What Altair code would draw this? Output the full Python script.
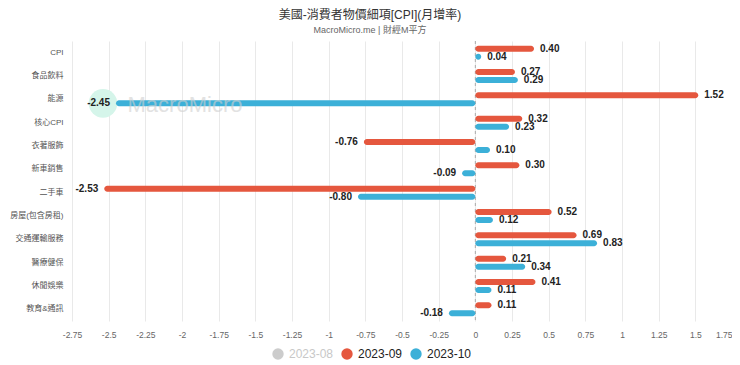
import altair as alt
import pandas as pd

categories = ["CPI", "食品飲料", "能源", "核心CPI", "衣著服飾", "新車銷售", "二手車",
              "房屋(包含房租)", "交通運輸服務", "醫療健保", "休閒娛樂", "教育&通訊"]
series_names = ["2023-08", "2023-09", "2023-10"]
s_2023_09 = [0.40, 0.27, 1.52, 0.32, -0.76, 0.30, -2.53, 0.52, 0.69, 0.21, 0.41, 0.11]
s_2023_10 = [0.04, 0.29, -2.45, 0.23, 0.10, -0.09, -0.80, 0.12, 0.83, 0.34, 0.11, -0.18]
x_ticks = [-2.75, -2.5, -2.25, -2, -1.75, -1.5, -1.25, -1, -0.75, -0.5, -0.25,
           0, 0.25, 0.5, 0.75, 1, 1.25, 1.5, 1.75]

rows = []
for c, a, b in zip(categories, s_2023_09, s_2023_10):
    rows.append({"cat": c, "series": "2023-09", "value": a})
    rows.append({"cat": c, "series": "2023-10", "value": b})
df = pd.DataFrame(rows)

FONT = "Liberation Sans, Noto Sans CJK TC, sans-serif"
RED = "#e5573e"
BLUE = "#3cb0d8"

x_enc = alt.X("value:Q",
              scale=alt.Scale(domain=[-2.75, 1.75], nice=False, zero=False),
              axis=alt.Axis(values=x_ticks, tickCount=40, title=None, grid=True, gridColor="#e9e9e9",
                            domain=False, ticks=False, labelColor="#666", labelFontSize=8.5,
                            labelPadding=9, labelFont=FONT, labelExpr="datum.value + ''",
                            labelOverlap=False, labelBound=False,
                            labelAlign={"condition": {"test": "datum.value == 1.75", "value": "right"},
                                        "value": "center"}))
y_enc = alt.Y("cat:N", sort=categories,
              scale=alt.Scale(paddingInner=0, paddingOuter=0),
              axis=alt.Axis(title=None, domain=False, ticks=False, labelColor="#555",
                            labelFontSize=8, labelFont=FONT, labelPadding=9,
                            minExtent=64, maxExtent=64))
yoff = alt.YOffset("series:N", sort=["2023-09", "2023-10"],
                   scale=alt.Scale(domain=["2023-09", "2023-10"], paddingInner=0, paddingOuter=0.46))
color_enc = alt.Color("series:N",
                      scale=alt.Scale(domain=series_names, range=["#cccccc", RED, BLUE]),
                      legend=alt.Legend(title=None, orient="none", direction="horizontal",
                                        legendX=200, legendY=307,
                                        symbolType="circle", symbolSize=130, symbolStrokeWidth=0,
                                        labelFontSize=12, labelFont=FONT, columnPadding=7,
                                        labelOffset=5,
                                        labelColor=alt.ExprRef("datum.label == '2023-08' ? '#c8c8c8' : '#222'")))

base = alt.Chart(df).transform_calculate(
    lbl="(datum.value < 0 ? '-' : '') + format(abs(datum.value), '.2f')")

highlight = base.transform_filter(
    "datum.cat == '能源' && datum.series == '2023-10'"
).mark_circle(size=820, color="#d5f5ea", opacity=1, xOffset=-13).encode(
    x=x_enc, y=y_enc, yOffset=yoff)

bars = base.mark_bar(size=6, cornerRadius=3).encode(
    x=x_enc, x2=alt.datum(0), y=y_enc, yOffset=yoff, color=color_enc)

zero = alt.Chart(pd.DataFrame({"z": [0]})).mark_rule(
    color="#aaaaaa", strokeDash=[3, 3], strokeWidth=1).encode(x="z:Q")

lab_pos = base.transform_filter("datum.value >= 0").mark_text(
    align="left", dx=6, fontWeight="bold", fontSize=10, color="#222", font=FONT
).encode(x=x_enc, y=y_enc, yOffset=yoff, text="lbl:N")

lab_neg = base.transform_filter("datum.value < 0").mark_text(
    align="right", dx=-6, fontWeight="bold", fontSize=10, color="#222", font=FONT
).encode(x=x_enc, y=y_enc, yOffset=yoff, text="lbl:N")

watermark = alt.Chart(pd.DataFrame({"t": ["MacroMicro"]})).mark_text(
    fontSize=22, color="#cfcfcf", opacity=0.6, font=FONT, align="center"
).encode(x=alt.value(113), y=alt.value(64), text="t:N")

chart = alt.layer(zero, highlight, bars, watermark, lab_pos, lab_neg).properties(
    width=660, height=280,
    padding={"left": 0, "right": 0, "top": 0, "bottom": 0},
    title=alt.TitleParams(text="美國-消費者物價細項[CPI](月增率)",
                          subtitle="MacroMicro.me | 財經M平方",
                          fontSize=12, font=FONT, fontWeight="normal", color="#333",
                          subtitleFontSize=9, subtitleFont=FONT, subtitleColor="#666",
                          subtitlePadding=4, anchor="middle", frame="bounds", offset=5)
).configure_view(stroke=None)

chart.save("out.html", embed_options={"renderer": "svg", "actions": False})
